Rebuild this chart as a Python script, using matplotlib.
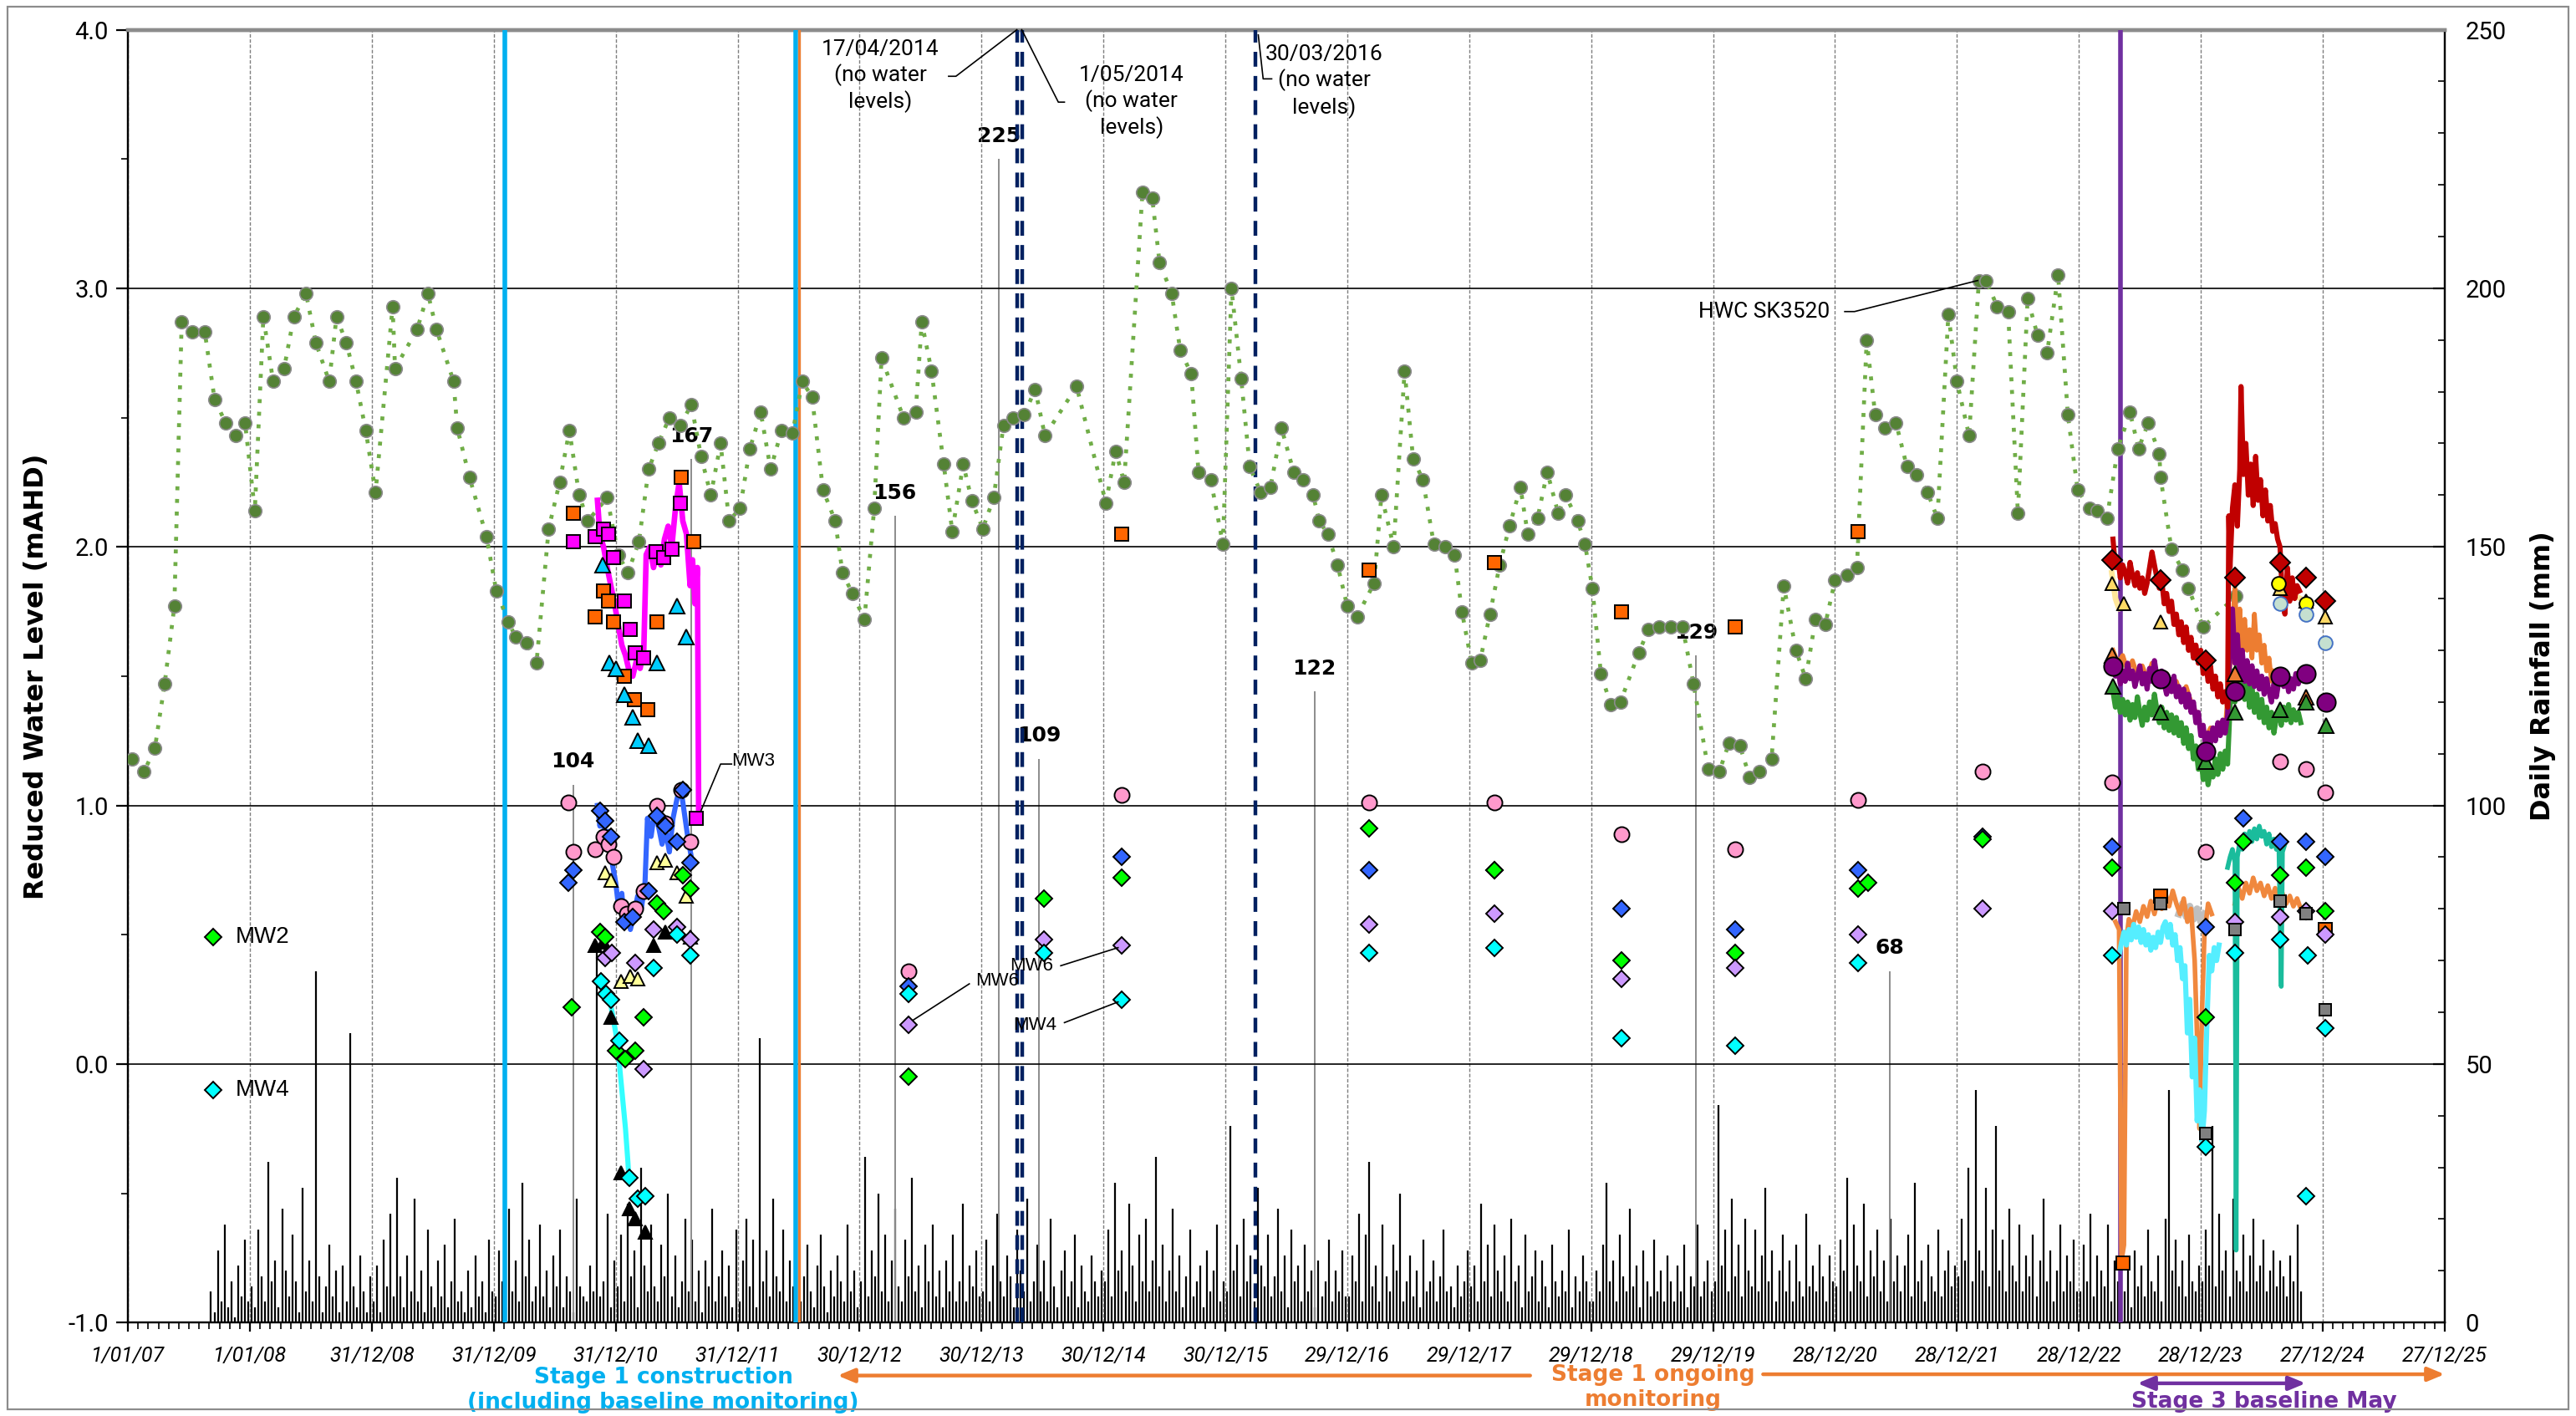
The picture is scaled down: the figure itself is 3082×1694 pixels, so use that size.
#!/usr/bin/env python3
# Reduced water levels (left) and daily rainfall (right), 2007-2025

import numpy as np
import matplotlib
matplotlib.use('Agg')
import matplotlib.pyplot as plt
import matplotlib.dates as mdates
from matplotlib.patches import Rectangle
from datetime import datetime

#%%============================================================================
# Data
# x values are "chart years": 2007 + (days since 1/01/07)/365, which is how
# the axis is ticked (1 tick = 365 days, 2026.0 = 27/12/25)
#==============================================================================
hwc_sk3520 = [
    (2007.03, 1.18), (2007.13, 1.13), (2007.22, 1.22), (2007.30, 1.47), (2007.38, 1.77),
    (2007.44, 2.87), (2007.53, 2.83), (2007.63, 2.83), (2007.71, 2.57), (2007.80, 2.48),
    (2007.88, 2.43), (2007.96, 2.48), (2008.04, 2.14), (2008.11, 2.89), (2008.19, 2.64),
    (2008.28, 2.69), (2008.36, 2.89), (2008.46, 2.98), (2008.54, 2.79), (2008.65, 2.64),
    (2008.71, 2.89), (2008.79, 2.79), (2008.87, 2.64), (2008.95, 2.45), (2009.03, 2.21),
    (2009.17, 2.93), (2009.19, 2.69), (2009.37, 2.84), (2009.46, 2.98), (2009.53, 2.84),
    (2009.67, 2.64), (2009.70, 2.46), (2009.80, 2.27), (2009.94, 2.04), (2010.02, 1.83),
    (2010.12, 1.71), (2010.18, 1.65), (2010.27, 1.63), (2010.35, 1.55), (2010.45, 2.07),
    (2010.54, 2.25), (2010.62, 2.45), (2010.70, 2.20), (2010.77, 2.10), (2010.93, 2.19),
    (2011.02, 1.97), (2011.10, 1.90), (2011.19, 2.02), (2011.27, 2.30), (2011.35, 2.40),
    (2011.44, 2.50), (2011.53, 2.47), (2011.62, 2.55), (2011.70, 2.35), (2011.78, 2.20),
    (2011.86, 2.40), (2011.93, 2.10), (2012.02, 2.15), (2012.10, 2.38), (2012.19, 2.52),
    (2012.27, 2.30), (2012.36, 2.45), (2012.45, 2.44), (2012.53, 2.64), (2012.61, 2.58),
    (2012.70, 2.22), (2012.80, 2.10), (2012.86, 1.90), (2012.94, 1.82), (2013.04, 1.72),
    (2013.12, 2.15), (2013.18, 2.73), (2013.36, 2.50), (2013.46, 2.52), (2013.51, 2.87),
    (2013.59, 2.68), (2013.69, 2.32), (2013.76, 2.06), (2013.85, 2.32), (2013.92, 2.18),
    (2014.01, 2.07), (2014.10, 2.19), (2014.18, 2.47), (2014.26, 2.50), (2014.35, 2.51),
    (2014.44, 2.61), (2014.52, 2.43), (2014.78, 2.62), (2015.02, 2.17), (2015.10, 2.37),
    (2015.17, 2.25), (2015.32, 3.37), (2015.40, 3.35), (2015.46, 3.10), (2015.56, 2.98),
    (2015.63, 2.76), (2015.72, 2.67), (2015.78, 2.29), (2015.88, 2.26), (2015.98, 2.01),
    (2016.05, 3.00), (2016.13, 2.65), (2016.20, 2.31), (2016.29, 2.21), (2016.37, 2.23),
    (2016.46, 2.46), (2016.56, 2.29), (2016.64, 2.26), (2016.72, 2.20), (2016.77, 2.10),
    (2016.84, 2.05), (2016.92, 1.93), (2017.00, 1.77), (2017.08, 1.73), (2017.22, 1.86),
    (2017.28, 2.20), (2017.38, 2.00), (2017.47, 2.68), (2017.54, 2.34), (2017.62, 2.26),
    (2017.71, 2.01), (2017.80, 2.00), (2017.88, 1.97), (2017.94, 1.75), (2018.02, 1.55),
    (2018.09, 1.56), (2018.17, 1.74), (2018.25, 1.93), (2018.33, 2.08), (2018.42, 2.23),
    (2018.48, 2.05), (2018.56, 2.11), (2018.64, 2.29), (2018.73, 2.13), (2018.79, 2.20),
    (2018.89, 2.10), (2018.95, 2.01), (2019.01, 1.84), (2019.08, 1.51), (2019.16, 1.39),
    (2019.24, 1.40), (2019.39, 1.59), (2019.47, 1.68), (2019.56, 1.69), (2019.65, 1.69),
    (2019.75, 1.69), (2019.84, 1.47), (2019.96, 1.14), (2020.05, 1.13), (2020.13, 1.24),
    (2020.22, 1.23), (2020.30, 1.11), (2020.38, 1.13), (2020.48, 1.18), (2020.58, 1.85),
    (2020.68, 1.60), (2020.76, 1.49), (2020.84, 1.72), (2020.92, 1.70), (2021.00, 1.87),
    (2021.10, 1.89), (2021.18, 1.92), (2021.26, 2.80), (2021.33, 2.51), (2021.41, 2.46),
    (2021.50, 2.48), (2021.59, 2.31), (2021.67, 2.28), (2021.76, 2.21), (2021.84, 2.11),
    (2021.93, 2.90), (2022.00, 2.64), (2022.10, 2.43), (2022.18, 3.03), (2022.24, 3.03),
    (2022.33, 2.93), (2022.42, 2.91), (2022.50, 2.13), (2022.58, 2.96), (2022.66, 2.82),
    (2022.74, 2.75), (2022.83, 3.05), (2022.91, 2.51), (2022.99, 2.22), (2023.09, 2.15),
    (2023.15, 2.14), (2023.23, 2.11), (2023.32, 2.38), (2023.42, 2.52), (2023.49, 2.38),
    (2023.57, 2.48), (2023.66, 2.36), (2023.67, 2.27), (2023.76, 1.99), (2023.85, 1.91),
    (2023.90, 1.84), (2024.02, 1.69), (2024.29, 1.81),
]

# daily rainfall (mm), largest fall in each ~10 day block, 36 blocks a year
rain_2007 = [0, 0, 0, 0, 0, 0, 0, 0, 0, 0, 0, 0, 0, 0, 0, 0, 0, 0, 0, 0, 0, 0, 0, 0,
             6, 2, 14, 4, 19, 3, 8, 1, 11, 5, 16, 4]
rain_2008 = [7, 3, 18, 9, 4, 31, 8, 12, 3, 22, 10, 5, 17, 8, 2, 26, 6, 12, 4, 68,
             9, 2, 7, 15, 5, 10, 2, 11, 4, 56, 7, 3, 13, 6, 2, 9]
rain_2009 = [4, 11, 2, 16, 7, 21, 5, 28, 9, 3, 13, 6, 24, 4, 10, 2, 18, 7, 3, 12,
             5, 15, 3, 8, 20, 4, 6, 2, 10, 3, 13, 5, 8, 2, 16, 6]
rain_2010 = [5, 14, 8, 3, 22, 6, 12, 4, 27, 9, 16, 4, 7, 19, 5, 10, 3, 13, 7, 18,
             3, 9, 6, 2, 24, 7, 5, 4, 11, 6, 73, 5, 8, 21, 3, 12]
rain_2011 = [7, 17, 4, 23, 9, 14, 3, 30, 11, 6, 19, 7, 4, 15, 9, 25, 5, 13, 3, 8,
             20, 6, 16, 4, 10, 2, 12, 7, 22, 4, 9, 14, 5, 11, 3, 18]
rain_2012 = [4, 12, 20, 7, 16, 3, 55, 8, 14, 5, 24, 9, 6, 18, 4, 12, 7, 29, 4, 9,
             15, 6, 3, 11, 17, 7, 2, 10, 5, 13, 8, 4, 19, 6, 10, 3]
rain_2013 = [8, 32, 5, 14, 9, 25, 6, 17, 4, 12, 22, 7, 4, 16, 9, 28, 6, 11, 3, 15,
             8, 19, 5, 10, 3, 12, 6, 17, 4, 8, 23, 4, 11, 7, 14, 5]
rain_2014 = [6, 16, 4, 11, 21, 8, 5, 13, 9, 3, 18, 10, 6, 24, 4, 8, 15, 6, 12, 4,
             20, 7, 3, 10, 14, 5, 8, 17, 3, 11, 6, 4, 13, 8, 5, 10]
rain_2015 = [8, 18, 5, 27, 10, 14, 6, 23, 11, 4, 17, 8, 20, 6, 12, 32, 7, 15, 4, 10,
             22, 6, 13, 3, 9, 18, 5, 8, 11, 3, 14, 6, 10, 19, 4, 8]
rain_2016 = [6, 38, 10, 15, 5, 20, 8, 13, 4, 26, 11, 7, 17, 5, 9, 22, 6, 13, 3, 18,
             8, 11, 4, 15, 6, 10, 3, 12, 5, 8, 16, 4, 10, 6, 14, 5]
rain_2017 = [5, 13, 8, 21, 4, 17, 31, 7, 11, 4, 19, 9, 6, 15, 10, 25, 4, 8, 13, 5,
             10, 3, 16, 6, 8, 12, 4, 9, 18, 6, 7, 3, 11, 5, 8, 14]
rain_2018 = [7, 11, 4, 23, 8, 15, 5, 19, 10, 6, 13, 4, 20, 8, 11, 3, 17, 6, 9, 14,
             4, 12, 7, 3, 15, 8, 5, 10, 6, 18, 3, 9, 6, 13, 8, 4]
rain_2019 = [4, 10, 6, 15, 27, 8, 12, 4, 17, 9, 6, 22, 7, 11, 3, 14, 8, 5, 16, 6,
             10, 4, 13, 8, 4, 11, 6, 15, 3, 9, 7, 19, 5, 8, 12, 6]
rain_2020 = [8, 42, 11, 18, 6, 24, 9, 15, 5, 20, 10, 7, 18, 6, 13, 26, 8, 14, 4, 10,
             17, 6, 12, 4, 15, 8, 5, 21, 7, 11, 6, 15, 9, 4, 13, 8]
rain_2021 = [7, 16, 10, 28, 6, 19, 11, 8, 23, 5, 14, 9, 18, 6, 12, 4, 20, 8, 13, 6,
             11, 17, 5, 27, 8, 12, 4, 15, 9, 6, 18, 5, 10, 14, 7, 11]
rain_2022 = [9, 20, 12, 30, 8, 45, 14, 10, 26, 7, 18, 38, 10, 16, 6, 22, 11, 8, 19, 6,
             13, 9, 17, 5, 12, 24, 8, 14, 4, 10, 19, 6, 13, 8, 16, 6]
rain_2023 = [6, 15, 8, 21, 5, 13, 10, 7, 19, 4, 12, 8, 16, 6, 10, 3, 14, 7, 11, 5,
             18, 8, 6, 13, 4, 20, 45, 10, 16, 7, 12, 5, 17, 8, 6, 11]
rain_2024 = [8, 18, 11, 38, 7, 21, 10, 14, 5, 24, 10, 8, 17, 6, 13, 20, 8, 11, 16, 6,
             10, 14, 7, 12, 9, 5, 13, 8, 19, 6, 0, 0, 0, 0, 0, 0]
rain_years = [2007, 2008, 2009, 2010, 2011, 2012, 2013, 2014, 2015,
              2016, 2017, 2018, 2019, 2020, 2021, 2022, 2023, 2024]
rain_blocks = [rain_2007, rain_2008, rain_2009, rain_2010, rain_2011, rain_2012,
               rain_2013, rain_2014, rain_2015, rain_2016, rain_2017, rain_2018,
               rain_2019, rain_2020, rain_2021, rain_2022, rain_2023, rain_2024]

# labelled rainfall peaks
peak_yr = [2010.65, 2011.62, 2013.29, 2014.14, 2014.47, 2016.73, 2019.86, 2021.45]
peak_mm = [104, 167, 156, 225, 109, 122, 129, 68]

# manual monitoring rounds
orange_sq = [(2010.65, 2.13), (2010.83, 1.73), (2010.90, 1.83), (2010.94, 1.79), (2010.98, 1.71),
             (2011.07, 1.50), (2011.15, 1.41), (2011.26, 1.37), (2011.34, 1.71), (2011.54, 2.27),
             (2011.64, 2.02), (2015.15, 2.05), (2017.18, 1.91), (2018.21, 1.94), (2019.25, 1.75),
             (2020.18, 1.69), (2021.19, 2.06), (2023.36, -0.77), (2023.67, 0.65), (2025.02, 0.52)]
mw3_sq = [(2010.65, 2.02), (2010.83, 2.04), (2010.90, 2.07), (2010.94, 2.05), (2010.98, 1.96),
          (2011.07, 1.79), (2011.12, 1.68), (2011.16, 1.59), (2011.23, 1.57), (2011.33, 1.98),
          (2011.39, 1.96), (2011.46, 1.99), (2011.53, 2.17), (2011.66, 0.95)]
cyan_tri = [(2010.89, 1.93), (2010.95, 1.55), (2011.00, 1.53), (2011.07, 1.43), (2011.14, 1.34),
            (2011.18, 1.25), (2011.27, 1.23), (2011.34, 1.55), (2011.50, 1.77), (2011.58, 1.65)]
blue_dia = [(2010.61, 0.70), (2010.65, 0.75), (2010.87, 0.98), (2010.91, 0.94), (2010.96, 0.88),
            (2011.07, 0.55), (2011.14, 0.57), (2011.27, 0.67), (2011.34, 0.96), (2011.41, 0.92),
            (2011.50, 0.86), (2011.55, 1.06), (2011.61, 0.78), (2013.40, 0.30), (2015.15, 0.80),
            (2017.18, 0.75), (2018.21, 0.75), (2019.25, 0.60), (2020.18, 0.52), (2021.19, 0.75),
            (2022.21, 0.88), (2023.27, 0.84), (2024.04, 0.53), (2024.35, 0.95), (2024.65, 0.86),
            (2024.86, 0.86), (2025.02, 0.80)]
pink_circ = [(2010.61, 1.01), (2010.65, 0.82), (2010.83, 0.83), (2010.90, 0.88), (2010.94, 0.85),
             (2010.98, 0.80), (2011.04, 0.61), (2011.09, 0.58), (2011.16, 0.60), (2011.23, 0.67),
             (2011.34, 1.00), (2011.41, 0.93), (2011.54, 1.06), (2011.61, 0.86), (2013.40, 0.36),
             (2015.15, 1.04), (2017.18, 1.01), (2018.21, 1.01), (2019.25, 0.89), (2020.18, 0.83),
             (2021.19, 1.02), (2022.21, 1.13), (2023.27, 1.09), (2024.04, 0.82), (2024.65, 1.17),
             (2024.86, 1.14), (2025.02, 1.05)]
mw2_dia = [(2010.64, 0.22), (2010.87, 0.51), (2010.91, 0.49), (2011.00, 0.05), (2011.08, 0.02),
           (2011.16, 0.05), (2011.23, 0.18), (2011.34, 0.62), (2011.39, 0.59), (2011.55, 0.73),
           (2011.61, 0.68), (2013.40, -0.05), (2014.51, 0.64), (2015.15, 0.72), (2017.18, 0.91),
           (2018.21, 0.75), (2019.25, 0.40), (2020.18, 0.43), (2021.19, 0.68), (2021.27, 0.70),
           (2022.21, 0.87), (2023.27, 0.76), (2024.04, 0.18), (2024.28, 0.70), (2024.35, 0.86),
           (2024.65, 0.73), (2024.86, 0.76), (2025.02, 0.59)]
mw4_dia = [(2010.88, 0.32), (2010.92, 0.27), (2010.96, 0.25), (2011.03, 0.09), (2011.11, -0.44),
           (2011.18, -0.52), (2011.24, -0.51), (2011.31, 0.37), (2011.50, 0.50), (2011.61, 0.42),
           (2013.40, 0.27), (2014.51, 0.43), (2015.15, 0.25), (2017.18, 0.43), (2018.21, 0.45),
           (2019.25, 0.10), (2020.18, 0.07), (2021.19, 0.39), (2023.27, 0.42), (2024.04, -0.32),
           (2024.28, 0.43), (2024.65, 0.48), (2024.86, -0.51), (2024.88, 0.42), (2025.02, 0.14)]
mw6_dia = [(2010.91, 0.41), (2010.97, 0.43), (2011.16, 0.39), (2011.23, -0.02), (2011.31, 0.52),
           (2011.50, 0.53), (2011.61, 0.48), (2013.40, 0.15), (2014.51, 0.48), (2015.15, 0.46),
           (2017.18, 0.54), (2018.21, 0.58), (2019.25, 0.33), (2020.18, 0.37), (2021.19, 0.50),
           (2022.21, 0.60), (2023.27, 0.59), (2024.28, 0.55), (2024.65, 0.57), (2024.86, 0.59),
           (2025.02, 0.50)]
black_tri = [(2010.83, 0.46), (2010.90, 0.47), (2010.96, 0.18), (2011.04, -0.42), (2011.11, -0.56),
             (2011.16, -0.60), (2011.24, -0.65), (2011.31, 0.46), (2011.41, 0.51), (2011.50, 0.52),
             (2011.61, 0.49)]
yellow_tri = [(2010.91, 0.74), (2010.96, 0.71), (2011.04, 0.32), (2011.12, 0.34), (2011.18, 0.33),
              (2011.34, 0.78), (2011.41, 0.79), (2011.50, 0.74), (2011.58, 0.65)]

# stage 3 baseline rounds
red_dia = [(2023.27, 1.95), (2023.67, 1.87), (2024.04, 1.56), (2024.28, 1.88), (2024.65, 1.94),
           (2024.86, 1.88), (2025.02, 1.79)]
purple_circ = [(2023.28, 1.54), (2023.67, 1.49), (2024.04, 1.21), (2024.28, 1.44), (2024.65, 1.50),
               (2024.86, 1.51), (2025.03, 1.40)]
green_tri = [(2023.28, 1.46), (2023.67, 1.36), (2024.04, 1.17), (2024.28, 1.36), (2024.65, 1.37),
             (2024.86, 1.40), (2025.03, 1.31)]
orange_tri = [(2023.27, 1.58), (2024.28, 1.51), (2024.86, 1.42)]
gold_tri = [(2023.27, 1.86), (2023.37, 1.78), (2023.67, 1.71), (2024.65, 1.84), (2024.86, 1.79),
            (2025.02, 1.73)]
yellow_circ = [(2024.64, 1.86), (2024.86, 1.78)]
teal_circ = [(2024.65, 1.78), (2024.86, 1.74), (2025.02, 1.63)]
gray_sq = [(2023.37, 0.60), (2023.67, 0.62), (2024.04, -0.27), (2024.28, 0.52), (2024.65, 0.63),
           (2024.86, 0.58), (2025.02, 0.21)]

# continuous loggers
mw3_log = [(2010.85, 2.18), (2010.87, 2.05), (2010.90, 2.00), (2010.93, 1.92), (2010.96, 1.85),
           (2010.99, 1.78), (2011.02, 1.70), (2011.05, 1.62), (2011.08, 1.58), (2011.11, 1.52),
           (2011.14, 1.50), (2011.17, 1.56), (2011.20, 1.53), (2011.23, 1.60), (2011.25, 1.97),
           (2011.28, 2.00), (2011.31, 1.92), (2011.34, 1.98), (2011.37, 1.93), (2011.40, 2.03),
           (2011.43, 2.08), (2011.46, 2.00), (2011.49, 2.15), (2011.52, 2.25), (2011.55, 2.10),
           (2011.58, 2.05), (2011.61, 1.85), (2011.63, 1.95), (2011.65, 1.78), (2011.67, 1.92),
           (2011.68, 0.97)]
blue_log = [(2010.85, 1.00), (2010.87, 0.92), (2010.89, 0.97), (2010.92, 0.85), (2010.94, 0.90),
            (2010.97, 0.78), (2011.00, 0.70), (2011.02, 0.62), (2011.05, 0.66), (2011.07, 0.55),
            (2011.10, 0.60), (2011.12, 0.52), (2011.15, 0.58), (2011.18, 0.65), (2011.21, 0.60),
            (2011.24, 0.70), (2011.26, 0.95), (2011.29, 0.88), (2011.32, 0.98), (2011.35, 0.92),
            (2011.38, 0.85), (2011.41, 0.90), (2011.44, 0.82), (2011.47, 0.95), (2011.50, 1.02),
            (2011.53, 1.08), (2011.56, 0.98), (2011.59, 0.88), (2011.62, 0.80)]
mw4_log = [(2010.86, 0.33), (2010.89, 0.30), (2010.92, 0.26), (2010.94, 0.28), (2010.97, 0.20),
           (2011.00, 0.12), (2011.02, 0.05), (2011.04, -0.05), (2011.06, -0.15), (2011.08, -0.25),
           (2011.10, -0.38), (2011.11, -0.46)]
red_log = [(2023.28, 2.03), (2023.30, 1.92), (2023.32, 1.96), (2023.34, 1.88), (2023.36, 1.93),
           (2023.38, 1.90), (2023.40, 1.86), (2023.42, 1.94), (2023.44, 1.89), (2023.46, 1.85),
           (2023.48, 1.90), (2023.50, 1.84), (2023.52, 1.88), (2023.54, 1.82), (2023.56, 1.86),
           (2023.58, 1.92), (2023.60, 1.98), (2023.62, 1.93), (2023.64, 1.88), (2023.66, 1.84),
           (2023.68, 1.87), (2023.70, 1.78), (2023.72, 1.82), (2023.74, 1.75), (2023.76, 1.79),
           (2023.78, 1.70), (2023.80, 1.74), (2023.82, 1.66), (2023.84, 1.71), (2023.86, 1.63),
           (2023.88, 1.69), (2023.90, 1.60), (2023.92, 1.65), (2023.94, 1.57), (2023.96, 1.62),
           (2023.98, 1.55), (2024.00, 1.60), (2024.02, 1.51), (2024.04, 1.56), (2024.06, 1.48),
           (2024.08, 1.54), (2024.10, 1.45), (2024.12, 1.50), (2024.14, 1.42), (2024.16, 1.47),
           (2024.18, 1.40), (2024.20, 1.44), (2024.22, 1.38), (2024.23, 2.12), (2024.24, 1.92),
           (2024.26, 2.15), (2024.28, 2.24), (2024.30, 2.08), (2024.32, 2.30), (2024.33, 2.62),
           (2024.35, 2.28), (2024.37, 2.40), (2024.39, 2.20), (2024.41, 2.32), (2024.43, 2.16),
           (2024.45, 2.35), (2024.47, 2.18), (2024.49, 2.26), (2024.51, 2.12), (2024.53, 2.22),
           (2024.55, 2.10), (2024.57, 2.16), (2024.59, 2.06), (2024.61, 2.09), (2024.63, 2.03),
           (2024.65, 2.00), (2024.67, 1.80), (2024.69, 1.74), (2024.71, 1.92), (2024.73, 1.79),
           (2024.75, 1.88), (2024.77, 1.80), (2024.79, 1.85), (2024.81, 1.83)]
purple_log = [(2023.28, 1.56), (2023.30, 1.50), (2023.32, 1.53), (2023.34, 1.47), (2023.36, 1.52),
              (2023.38, 1.48), (2023.40, 1.55), (2023.42, 1.49), (2023.44, 1.52), (2023.46, 1.46),
              (2023.48, 1.50), (2023.50, 1.54), (2023.52, 1.47), (2023.54, 1.51), (2023.56, 1.45),
              (2023.58, 1.53), (2023.60, 1.48), (2023.62, 1.56), (2023.64, 1.50), (2023.66, 1.46),
              (2023.68, 1.52), (2023.70, 1.47), (2023.72, 1.43), (2023.74, 1.49), (2023.76, 1.44),
              (2023.78, 1.50), (2023.80, 1.42), (2023.82, 1.46), (2023.84, 1.40), (2023.86, 1.45),
              (2023.88, 1.38), (2023.90, 1.43), (2023.92, 1.36), (2023.94, 1.40), (2023.96, 1.32),
              (2023.98, 1.36), (2024.00, 1.27), (2024.02, 1.31), (2024.04, 1.22), (2024.06, 1.28),
              (2024.08, 1.24), (2024.10, 1.30), (2024.12, 1.25), (2024.14, 1.32), (2024.16, 1.27),
              (2024.18, 1.33), (2024.20, 1.28), (2024.22, 1.35), (2024.24, 1.62), (2024.26, 1.76),
              (2024.28, 1.55), (2024.30, 1.66), (2024.32, 1.50), (2024.34, 1.60), (2024.36, 1.48),
              (2024.38, 1.56), (2024.40, 1.47), (2024.42, 1.54), (2024.44, 1.46), (2024.46, 1.52),
              (2024.48, 1.45), (2024.50, 1.50), (2024.52, 1.43), (2024.54, 1.49), (2024.56, 1.44),
              (2024.58, 1.40), (2024.60, 1.47), (2024.62, 1.42), (2024.64, 1.48), (2024.66, 1.52),
              (2024.68, 1.46), (2024.70, 1.50), (2024.72, 1.44), (2024.74, 1.49), (2024.76, 1.45),
              (2024.78, 1.51), (2024.80, 1.47), (2024.82, 1.50)]
green_log = [(2023.28, 1.44), (2023.30, 1.38), (2023.32, 1.42), (2023.34, 1.36), (2023.36, 1.41),
             (2023.38, 1.35), (2023.40, 1.40), (2023.42, 1.33), (2023.44, 1.39), (2023.46, 1.34),
             (2023.48, 1.42), (2023.50, 1.36), (2023.52, 1.31), (2023.54, 1.38), (2023.56, 1.33),
             (2023.58, 1.40), (2023.60, 1.35), (2023.62, 1.43), (2023.64, 1.37), (2023.66, 1.32),
             (2023.68, 1.38), (2023.70, 1.30), (2023.72, 1.36), (2023.74, 1.29), (2023.76, 1.35),
             (2023.78, 1.28), (2023.80, 1.34), (2023.82, 1.27), (2023.84, 1.32), (2023.86, 1.24),
             (2023.88, 1.30), (2023.90, 1.22), (2023.92, 1.27), (2023.94, 1.18), (2023.96, 1.23),
             (2023.98, 1.14), (2024.00, 1.19), (2024.02, 1.10), (2024.04, 1.15), (2024.06, 1.08),
             (2024.08, 1.14), (2024.10, 1.11), (2024.12, 1.18), (2024.14, 1.12), (2024.16, 1.20),
             (2024.18, 1.14), (2024.20, 1.21), (2024.22, 1.16), (2024.24, 1.38), (2024.26, 1.52),
             (2024.28, 1.40), (2024.30, 1.58), (2024.32, 1.44), (2024.34, 1.53), (2024.36, 1.41),
             (2024.38, 1.49), (2024.40, 1.38), (2024.42, 1.46), (2024.44, 1.36), (2024.46, 1.43),
             (2024.48, 1.34), (2024.50, 1.41), (2024.52, 1.32), (2024.54, 1.38), (2024.56, 1.30),
             (2024.58, 1.36), (2024.60, 1.28), (2024.62, 1.34), (2024.64, 1.37), (2024.66, 1.31),
             (2024.68, 1.38), (2024.70, 1.33), (2024.72, 1.39), (2024.74, 1.32), (2024.76, 1.37),
             (2024.78, 1.33), (2024.80, 1.36), (2024.82, 1.32)]
orange_hi_log = [(2023.28, 1.60), (2023.32, 1.55), (2023.36, 1.58), (2023.40, 1.52), (2023.44, 1.56),
                 (2023.48, 1.50), (2023.52, 1.54), (2023.56, 1.49), (2023.60, 1.55), (2023.64, 1.50),
                 (2023.68, 1.46), (2023.72, 1.51), (2023.76, 1.45), (2023.80, 1.48), (2023.84, 1.42),
                 (2023.88, 1.46), (2023.92, 1.40), (2023.96, 1.36), (2024.00, 1.30), (2024.04, 1.26),
                 (2024.08, 1.30), (2024.12, 1.27), (2024.16, 1.32), (2024.20, 1.29), (2024.24, 1.55),
                 (2024.26, 1.70), (2024.28, 1.84), (2024.30, 1.62), (2024.32, 1.76), (2024.34, 1.58),
                 (2024.36, 1.72), (2024.38, 1.60), (2024.40, 1.68), (2024.42, 1.57), (2024.44, 1.74),
                 (2024.46, 1.60), (2024.48, 1.66), (2024.50, 1.55), (2024.52, 1.62), (2024.54, 1.52),
                 (2024.56, 1.57), (2024.58, 1.48), (2024.60, 1.52)]
gold_log = [(2023.27, 1.90), (2023.30, 1.80), (2023.33, 1.76), (2023.37, 1.78), (np.nan, np.nan),
            (2024.65, 1.84), (2024.86, 1.79)]
cyan_lo_log = [(2023.33, 0.42), (2023.35, 0.47), (2023.37, 0.51), (2023.39, 0.46), (2023.41, 0.52),
               (2023.43, 0.48), (2023.45, 0.54), (2023.47, 0.49), (2023.49, 0.53), (2023.51, 0.47),
               (2023.53, 0.52), (2023.55, 0.46), (2023.57, 0.50), (2023.59, 0.44), (2023.61, 0.49),
               (2023.63, 0.45), (2023.65, 0.51), (2023.67, 0.47), (2023.69, 0.53), (2023.71, 0.55),
               (2023.73, 0.49), (2023.75, 0.54), (2023.77, 0.46), (2023.79, 0.50), (2023.81, 0.40),
               (2023.83, 0.45), (2023.85, 0.33), (2023.87, 0.38), (2023.89, 0.12), (2023.91, 0.25),
               (2023.93, -0.05), (2023.95, 0.10), (2023.97, -0.22), (2023.99, -0.10), (2024.01, -0.30),
               (2024.03, -0.18), (2024.05, 0.15), (2024.07, 0.42), (2024.09, 0.36), (2024.11, 0.45),
               (2024.13, 0.40), (2024.15, 0.46)]
orange_lo_log = [(2023.30, 0.55), (2023.33, 0.52), (2023.35, -0.76), (2023.37, -0.70), (2023.39, 0.48),
                 (2023.41, 0.56), (2023.44, 0.53), (2023.47, 0.59), (2023.50, 0.55), (2023.53, 0.61),
                 (2023.56, 0.57), (2023.59, 0.63), (2023.62, 0.58), (2023.65, 0.64), (2023.68, 0.60),
                 (2023.71, 0.66), (2023.74, 0.61), (2023.77, 0.67), (2023.80, 0.62), (2023.83, 0.58),
                 (2023.86, 0.64), (2023.89, 0.55), (2023.92, 0.60), (2023.95, 0.40), (2023.97, 0.10),
                 (2023.99, -0.25), (2024.01, 0.20), (2024.03, 0.50), (2024.06, 0.62), (2024.09, 0.58),
                 (np.nan, np.nan),
                 (2024.28, 0.62), (2024.31, 0.68), (2024.34, 0.64), (2024.37, 0.70), (2024.40, 0.66),
                 (2024.43, 0.72), (2024.46, 0.67), (2024.49, 0.70), (2024.52, 0.65), (2024.55, 0.69),
                 (2024.58, 0.64), (2024.61, 0.68), (2024.64, 0.63), (2024.67, 0.66), (2024.70, 0.62),
                 (2024.73, 0.65), (2024.76, 0.61), (2024.79, 0.64), (2024.82, 0.60)]
teal_log = [(2024.22, 0.76), (2024.24, 0.80), (2024.26, 0.83), (2024.28, 0.78), (2024.29, -0.72),
            (2024.30, 0.80), (2024.32, 0.86), (2024.34, 0.83), (2024.36, 0.89), (2024.38, 0.85),
            (2024.40, 0.90), (2024.42, 0.86), (2024.44, 0.91), (2024.46, 0.87), (2024.48, 0.92),
            (2024.50, 0.88), (2024.52, 0.90), (2024.54, 0.85), (2024.56, 0.89), (2024.58, 0.84),
            (2024.60, 0.87), (2024.62, 0.83), (2024.64, 0.86), (2024.66, 0.30), (2024.67, 0.82),
            (2024.69, 0.85)]
gray_log = [(2023.82, 0.58), (2023.85, 0.62), (2023.88, 0.57), (2023.91, 0.61), (2023.94, 0.56),
            (2023.97, 0.60), (2024.00, 0.55), (2024.03, 0.58)]

# events drawn as vertical lines
construction_start = datetime(2010, 2, 1)
construction_end = datetime(2012, 6, 23)
ongoing_start = datetime(2012, 7, 3)
no_levels = [datetime(2014, 4, 17), datetime(2014, 5, 1), datetime(2016, 3, 30)]
stage3_start = datetime(2023, 5, 1)

#%%============================================================================
# Helpers
#==============================================================================
T0 = mdates.date2num(datetime(2007, 1, 1))


def cx(yrs):
    """chart years -> matplotlib date numbers"""
    return T0 + (np.asarray(yrs, dtype=float) - 2007.0) * 365.0


def xy(pairs):
    a = np.array(pairs, dtype=float)
    return cx(a[:, 0]), a[:, 1]


def leader(ax, pts):
    a = np.array(pts, dtype=float)
    ax.plot(cx(a[:, 0]), a[:, 1], color='black', lw=0.6, clip_on=False, zorder=20)


#%%============================================================================
# Figure
#==============================================================================
plt.rcParams['font.family'] = ['Roboto', 'DejaVu Sans']
BOLD = 'DejaVu Sans'

fig, ax = plt.subplots(figsize=(15.41, 8.47))
fig.subplots_adjust(left=0.0497, right=0.949, top=0.979, bottom=0.066)
ax2 = ax.twinx()
ax.set_zorder(ax2.get_zorder() + 1)
ax.patch.set_visible(False)

# --- rainfall (right axis) ---
rx, ry = [], []
for yr, vals in zip(rain_years, rain_blocks):
    for i, v in enumerate(vals):
        if v > 0:
            rx.append(yr + (i + 0.5) / 36.0)
            ry.append(v)
ax2.vlines(cx(rx), 0, ry, color='black', lw=0.8)
ax2.vlines(cx(peak_yr), 0, peak_mm, color='#8c8c8c', lw=0.7)
for yr, mm in zip(peak_yr, peak_mm):
    ax2.text(cx(yr), mm + 2.5, str(mm), ha='center', va='bottom', fontsize=9,
             fontweight='bold', family=BOLD)
ax2.set_ylim(0, 250)
ax2.set_yticks(np.arange(0, 251, 50))
ax2.set_yticks(np.arange(0, 251, 10), minor=True)
ax2.tick_params(axis='y', which='major', direction='in', length=5, labelsize=10.5, pad=9)
ax2.tick_params(axis='y', which='minor', direction='in', length=3)
ax2.set_ylabel('Daily Rainfall (mm)', fontsize=11.5, fontweight='bold', family=BOLD,
               labelpad=10)

# --- event lines ---
ax.axvline(mdates.date2num(construction_start), color='#00B0F0', lw=2.0, zorder=3)
ax.axvline(mdates.date2num(construction_end), color='#00B0F0', lw=2.0, zorder=3)
ax.axvline(mdates.date2num(ongoing_start), color='#ED7D31', lw=1.2, zorder=3)
for d in no_levels:
    ax.axvline(mdates.date2num(d), color='#002060', lw=1.6, ls=(0, (4, 2.5)), zorder=3)
ax.axvline(mdates.date2num(stage3_start), color='#7030A0', lw=2.0, zorder=3)

# --- HWC SK3520 ---
hx, hy = xy(hwc_sk3520)
ax.plot(hx, hy, ls=(0, (1, 2.2)), color='#70AD47', lw=1.7, zorder=4)
ax.plot(hx, hy, ls='none', marker='o', ms=5.6, mfc='#548235', mec='#8c8c8c', mew=0.6, zorder=5)

# --- loggers ---
loggers = [
    (mw3_log, '#FF00FF', 2.4), (blue_log, '#3366FF', 2.2), (mw4_log, '#33FFFF', 2.2),
    (gold_log, '#FFE699', 2.4), (orange_hi_log, '#ED7D31', 2.0), (green_log, '#339933', 2.2),
    (purple_log, '#800080', 2.2), (red_log, '#C00000', 2.2), (gray_log, '#BFBFBF', 3.0),
    (orange_lo_log, '#F0883E', 2.0), (cyan_lo_log, '#55EEFF', 2.2), (teal_log, '#1ABC9C', 2.0),
]
for pairs, col, lw in loggers:
    lx, ly = xy(pairs)
    ax.plot(lx, ly, color=col, lw=lw, zorder=6)

# --- manual readings ---
markers = [
    (orange_sq, 's', '#FF6600', 6.0), (mw3_sq, 's', '#FF00FF', 6.0), (cyan_tri, '^', '#00CCFF', 6.5),
    (yellow_tri, '^', '#FFFF99', 6.0), (black_tri, '^', '#000000', 6.0),
    (pink_circ, 'o', '#FF99CC', 6.5), (blue_dia, 'D', '#3366FF', 5.2), (mw2_dia, 'D', '#00FF00', 5.2),
    (mw6_dia, 'D', '#CC99FF', 5.2), (mw4_dia, 'D', '#00FFFF', 5.2),
    (gray_sq, 's', '#808080', 5.0), (gold_tri, '^', '#FFD966', 6.0), (yellow_circ, 'o', '#FFFF00', 6.0),
    (teal_circ, 'o', '#C5E0D0', 6.0), (orange_tri, '^', '#ED7D31', 6.5), (green_tri, '^', '#339933', 6.5),
    (purple_circ, 'o', '#800080', 8.0), (red_dia, 'D', '#C00000', 6.0),
]
for pairs, mk, col, ms in markers:
    px, py = xy(pairs)
    edge = '#4472C4' if col == '#C5E0D0' else 'black'
    ax.plot(px, py, ls='none', marker=mk, ms=ms, mfc=col, mec=edge, mew=0.7, zorder=7)

# --- left axis ---
ax.set_ylim(-1.0, 4.0)
ax.set_yticks(np.arange(-1, 4.01, 1.0))
ax.set_yticks(np.arange(-1, 4.01, 0.5), minor=True)
ax.set_yticklabels(['%.1f' % v for v in np.arange(-1, 4.01, 1.0)])
ax.tick_params(axis='y', which='major', direction='out', length=5, labelsize=10.5)
ax.tick_params(axis='y', which='minor', direction='out', length=3)
ax.set_ylabel('Reduced Water Level (mAHD)', fontsize=11.5, fontweight='bold', family=BOLD,
              labelpad=8)

# --- x axis ---
xt = cx(np.arange(2007, 2027))
ax.set_xlim(xt[0], xt[-1])
ax.set_xticks(xt)
ax.set_xticks(cx(2007 + np.arange(0, 19 * 12 + 1) / 12.0), minor=True)
labs = []
for d in mdates.num2date(xt):
    labs.append('%d/%02d/%02d' % (d.day, d.month, d.year % 100))
ax.set_xticklabels(labs, fontstyle='italic')
ax.tick_params(axis='x', which='major', direction='out', length=4, labelsize=9, pad=6)
ax.tick_params(axis='x', which='minor', direction='out', length=3)

ax.grid(axis='y', which='major', color='black', lw=0.6)
ax.grid(axis='x', which='major', color='#7f7f7f', lw=0.5, ls=(0, (3, 1.5)))
ax.set_axisbelow(True)
for a in (ax, ax2):
    a.spines['top'].set_color('#8c8c8c')
    a.spines['top'].set_linewidth(1.6)

# --- annotations ---
txt = dict(fontsize=9.5, ha='center', va='center', linespacing=1.25, zorder=20)
ax.text(cx(2013.17), 3.82, '17/04/2014\n(no water\nlevels)', **txt)
leader(ax, [(2013.73, 3.82), (2013.79, 3.82), (2014.29, 4.0)])
ax.text(cx(2015.23), 3.72, '1/05/2014\n(no water\nlevels)', **txt)
leader(ax, [(2014.68, 3.72), (2014.63, 3.72), (2014.33, 4.0)])
ax.text(cx(2016.81), 3.80, '30/03/2016\n(no water\nlevels)', **txt)
leader(ax, [(2016.38, 3.81), (2016.31, 3.81), (2016.27, 3.98)])
ax.text(cx(2020.42), 2.91, 'HWC SK3520', **txt)
leader(ax, [(2021.08, 2.91), (2021.16, 2.91), (2022.17, 3.03)])

small = dict(fontsize=8, ha='center', va='center', family=['Liberation Sans', 'DejaVu Sans'],
             zorder=20)
ax.text(cx(2012.13), 1.17, 'MW3', **small)
leader(ax, [(2011.95, 1.16), (2011.86, 1.16), (2011.70, 0.98)])
ax.text(cx(2014.13), 0.32, 'MW6', **small)
leader(ax, [(2013.90, 0.31), (2013.44, 0.17)])
ax.text(cx(2014.41), 0.38, 'MW6', **small)
leader(ax, [(2014.65, 0.38), (2015.12, 0.45)])
ax.text(cx(2014.44), 0.15, 'MW4', **small)
leader(ax, [(2014.68, 0.16), (2015.12, 0.24)])

# key for the two diamond series
ax.plot(cx([2007.70]), [0.49], ls='none', marker='D', ms=5.2, mfc='#00FF00', mec='black', mew=0.7)
ax.plot(cx([2007.70]), [-0.10], ls='none', marker='D', ms=5.2, mfc='#00FFFF', mec='black', mew=0.7)
key = dict(fontsize=10, ha='left', va='center', family=['Liberation Sans', 'DejaVu Sans'])
ax.text(cx(2007.88), 0.49, 'MW2', **key)
ax.text(cx(2007.88), -0.10, 'MW4', **key)

# --- stage labels below the axis ---
tr = ax.get_xaxis_transform()
ax.text(cx(2011.39), -0.052, 'Stage 1 construction\n(including baseline monitoring)',
        transform=tr, ha='center', va='center', fontsize=9.5, fontweight='bold',
        family=BOLD, color='#00B0F0', linespacing=1.2)
ax.text(cx(2019.51), -0.050, 'Stage 1 ongoing\nmonitoring', transform=tr, ha='center',
        va='center', fontsize=9.5, fontweight='bold', family=BOLD, color='#ED7D31',
        linespacing=1.2)
ax.text(cx(2024.52), -0.061, 'Stage 3 baseline May', transform=tr, ha='center', va='center',
        fontsize=9.5, fontweight='bold', family=BOLD, color='#7030A0')
arrow = dict(arrowstyle='-|>,head_width=0.25,head_length=0.6', lw=1.6, shrinkA=0, shrinkB=0)
ax.annotate('', xy=(cx(2012.82), -0.041), xytext=(cx(2018.50), -0.041), xycoords=tr,
            textcoords=tr, annotation_clip=False, arrowprops=dict(arrow, color='#ED7D31'))
ax.annotate('', xy=(cx(2026.0), -0.040), xytext=(cx(2020.41), -0.040), xycoords=tr,
            textcoords=tr, annotation_clip=False, arrowprops=dict(arrow, color='#ED7D31'))
ax.annotate('', xy=(cx(2024.86), -0.047), xytext=(cx(2023.48), -0.047), xycoords=tr,
            textcoords=tr, annotation_clip=False,
            arrowprops=dict(arrow, arrowstyle='<|-|>,head_width=0.25,head_length=0.6',
                            color='#7030A0'))

fig.patches.append(Rectangle((0.003, 0.005), 0.994, 0.99, transform=fig.transFigure,
                             fill=False, ec='#8c8c8c', lw=0.8))

fig.savefig('out.png', dpi=200)
